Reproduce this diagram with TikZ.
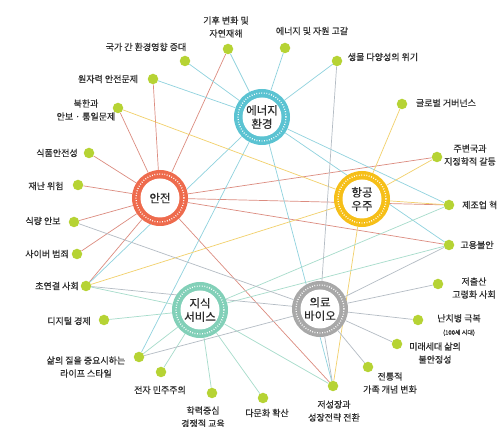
\documentclass[tikz,border=0pt]{standalone}
\usepackage{fontspec}
\setmainfont{Noto Sans CJK KR}[FakeBold=0.5]
\pgfdeclarelayer{back}
\pgfdeclarelayer{bg}
\pgfsetlayers{back,bg,main}
\definecolor{cR}{HTML}{EE6B4D}
\definecolor{cT}{HTML}{5BC3D2}
\definecolor{cY}{HTML}{F6BF18}
\definecolor{cM}{HTML}{82D0B8}
\definecolor{cG}{HTML}{A8A8A8}
\definecolor{cLeaf}{HTML}{B6D334}
\definecolor{cTxt}{HTML}{2E2E2E}
\definecolor{eR}{HTML}{DC8C80}
\definecolor{eT}{HTML}{8FD2DE}
\definecolor{eY}{HTML}{F2D06A}
\definecolor{eM}{HTML}{A6DCCB}
\definecolor{eG}{HTML}{B4BCC4}
\tikzset{
  leaf/.style={circle, fill=cLeaf, minimum size=10.5pt, inner sep=0pt},
  lab/.style={font=\fontsize{9}{13}\selectfont, text=cTxt, align=center, inner sep=0pt},
  hub/.style={circle, fill=#1, minimum size=56pt, inner sep=0pt,
    font=\fontsize{11.5}{13.5}\selectfont, text=cTxt, align=center,
    path picture={
      \fill[white] (path picture bounding box.center) circle[radius=19.5pt];
      \draw[white, line width=1.4pt, dash pattern=on 0.8pt off 1.7pt]
        (path picture bounding box.center) circle[radius=24pt];}},
  ln/.style={draw=#1, line width=0.7pt}
}
\begin{document}
\begin{tikzpicture}[x=1pt, y=-1pt]
\useasboundingbox (0,0) rectangle (501,427);
\begin{pgfonlayer}{back}
\fill[white] (0,0) rectangle (501,427);
\end{pgfonlayer}

% hubs
\node[hub=cR] (anjeon) at (160,198) {안전};
\node[hub=cT] (energyh) at (262,117) {에너지\\환경};
\node[hub=cY] (hanggong) at (362,199) {항공\\우주};
\node[hub=cM] (jisik) at (200,310) {지식\\서비스};
\node[hub=cG] (uiryo) at (320,309) {의료\\바이오};

% leaf dots
\node[leaf] (kiho) at (228,49) {};
\node[leaf] (gukga) at (185,61) {};
\node[leaf] (wonja) at (153,79) {};
\node[leaf] (bukhan) at (118,108) {};
\node[leaf] (sikpum) at (89,153) {};
\node[leaf] (jaenan) at (78,185) {};
\node[leaf] (sikryang) at (74,222) {};
\node[leaf] (cyber) at (77,254) {};
\node[leaf] (chohyun) at (86,286) {};
\node[leaf] (digital) at (104,320) {};
\node[leaf] (salui) at (139,357) {};
\node[leaf] (jeonja) at (161,372) {};
\node[leaf] (hakryeok) at (212,393) {};
\node[leaf] (damunhwa) at (263,398) {};
\node[leaf] (jeoseong) at (333,386) {};
\node[leaf] (jeontong) at (368,367) {};
\node[leaf] (mirae) at (397,344) {};
\node[leaf] (nanchi) at (418,320) {};
\node[leaf] (jeochul) at (438,284) {};
\node[leaf] (goyong) at (449,245) {};
\node[leaf] (jejo) at (449,205) {};
\node[leaf] (jubyeon) at (437,157) {};
\node[leaf] (global) at (402,104) {};
\node[leaf] (saengmul) at (337,61) {};
\node[leaf] (energy) at (285,48) {};

% labels
\node[lab] (kiho-l) at (226,27) {기후 변화 및\\자연재해};
\node[lab] (gukga-l) at (146,47) {국가 간 환경영향 증대};
\node[lab] (wonja-l) at (108,79) {원자력 안전문제};
\node[lab] (bukhan-l) at (86,110) {북한과\\안보 · 통일문제};
\node[lab] (sikpum-l) at (57,153) {식품안전성};
\node[lab] (jaenan-l) at (46,186) {재난 위험};
\node[lab] (sikryang-l) at (43,221) {식량 안보};
\node[lab] (cyber-l) at (47,254) {사이버 범죄};
\node[lab] (chohyun-l) at (57,286) {초연결 사회};
\node[lab] (digital-l) at (69,321) {디지털 경제};
\node[lab] (salui-l) at (86,367) {삶의 질을 중요시하는\\라이프 스타일};
\node[lab] (jeonja-l) at (160,390) {전자 민주주의};
\node[lab] (hakryeok-l) at (203,417) {학력중심\\경쟁적 교육};
\node[lab] (damunhwa-l) at (267,413) {다문화 확산};
\node[lab] (jeoseong-l) at (334,411) {저성장과\\성장전략 전환};
\node[lab] (jeontong-l) at (390,383) {전통적\\가족 개념 변화};
\node[lab] (mirae-l) at (435,353) {미래세대 삶의\\불안정성};
\node[lab] (nanchi-l) at (459,325) {난치병 극복\\{\fontsize{6}{7}\selectfont (100세 시대)}};
\node[lab] (jeochul-l) at (474,288) {저출산\\고령화 사회};
\node[lab] (goyong-l) at (477,245) {고용불안};
\node[lab, anchor=west] (jejo-l) at (462,205) {제조업 혁};
\node[lab] (jubyeon-l) at (470,155) {주변국과\\지정학적 갈등};
\node[lab] (global-l) at (446,103) {글로벌 거버넌스};
\node[lab] (saengmul-l) at (383,57) {생물 다양성의 위기};
\node[lab] (energy-l) at (312,31) {에너지 및 자원 고갈};

% connectors
\begin{pgfonlayer}{bg}
\foreach \t in {kiho,wonja,bukhan,sikpum,jaenan,sikryang,cyber,chohyun,jubyeon,jejo,goyong,jeoseong}
  \draw[ln=eR] (anjeon) -- (\t);
\foreach \t in {kiho,gukga,wonja,energy,saengmul,chohyun,salui,jejo,goyong,jeoseong}
  \draw[ln=eT] (energyh) -- (\t);
\foreach \t in {global,jubyeon,jejo,bukhan,chohyun,jeoseong}
  \draw[ln=eY] (hanggong) -- (\t);
\foreach \t in {chohyun,digital,salui,jeonja,hakryeok,damunhwa,jeoseong,goyong,jejo}
  \draw[ln=eM] (jisik) -- (\t);
\foreach \t in {goyong,jeochul,nanchi,mirae,jeontong,jeoseong,sikryang,chohyun,salui,saengmul}
  \draw[ln=eG] (uiryo) -- (\t);
\end{pgfonlayer}
\end{tikzpicture}
\end{document}
